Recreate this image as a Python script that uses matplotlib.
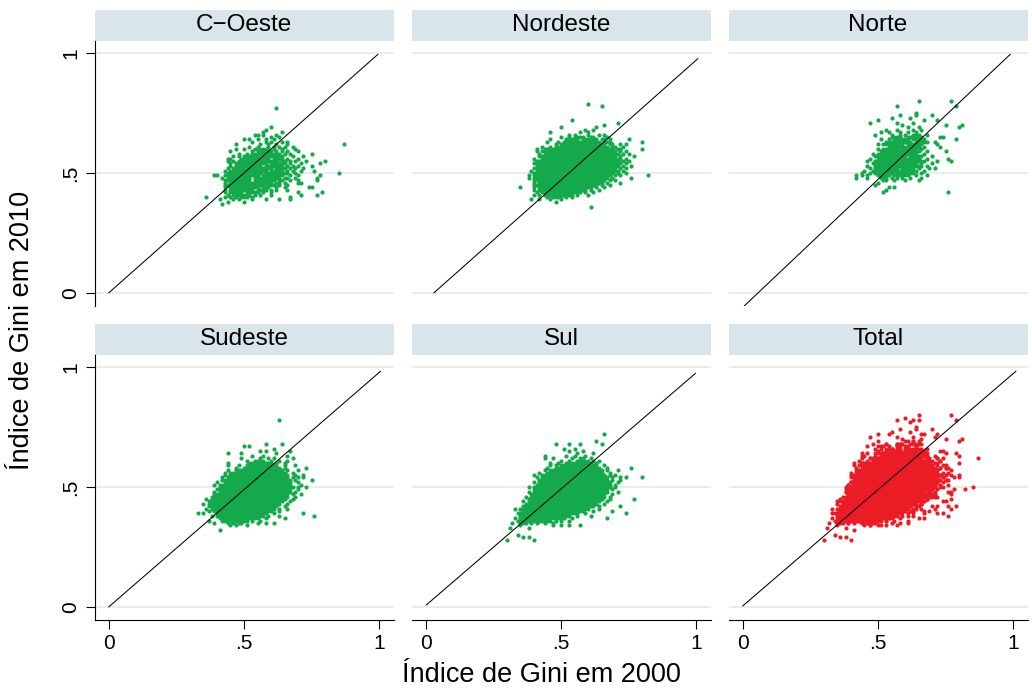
import numpy as np
import matplotlib.pyplot as plt
from matplotlib.patches import Rectangle

plt.rcParams['font.family'] = ['Liberation Sans', 'DejaVu Sans']

# Gini 2000 (x) vs Gini 2010 (y), two-decimal values.
# each row: (gini_2010 in hundredths, "gini_2000 values in hundredths"), "a-b" = every value a..b
co_rows = [
    (77, "62"), (69, "60"), (68, "58"), (67, "57 64"), (66, "54 55 57 62"), (65, "60 63"),
    (64, "50 52 55 58 61"), (63, "53 58 60 64 66"), (62, "47 56 59 62 66 87"),
    (61, "52 55 59 61 63 65 68"), (60, "47 50 54 56-58 61 64 69"),
    (59, "45 53 55-60 62 64 66 70"), (58, "48 51 53-57 59-63 65 67 75"),
    (57, "46 48 50-55 57-64 68 72"), (56, "44 45 49-59 61-64 66 70"),
    (55, "44 46 48-62 64 65 67 69 73 80"), (54, "45 47-58 60-65 67 71 78"),
    (53, "45 47-56 58-64 66 68 70 75"), (52, "44 46-60 62-65 67 69 72"),
    (51, "43 45-58 60-64 66 68 71 76"), (50, "44-56 58-66 69 85"),
    (49, "39 40 43-55 57-64 67 70 78"), (48, "42 44-52 54-63 65 66 69 77"),
    (47, "43-52 54-61 63 64 67 70 77"), (46, "43 45-60 62 63 65 70 71"),
    (45, "43 44 46-57 59-61 63 66"), (44, "43 45-55 57-59 62 65 74 75"),
    (43, "43 45-53 55-58 60 62 66"), (42, "43 45-49 51-55 57 60 70 79"),
    (41, "44 46-52 54 56 60 71 77"), (40, "36 43 45 47 49-51 53 67"),
    (39, "41 46 48 53 58 63 67"), (38, "44 50"), (37, "42"),
]

ne_rows = [
    (79, "60"), (78, "65"), (72, "54"), (71, "71"), (70, "66"), (69, "50 63"), (68, "59 62"),
    (67, "46 57 60"), (66, "53 55 60 64 66"), (65, "50 53 55-58 61 62 67"),
    (64, "46 52-56 58-63 65 66 68 75"), (63, "45 49 51-64 66-68 80"),
    (62, "48 50-66 68 69 72 74"), (61, "43 46 48-67 69 70 73"), (60, "41 44-69 71 72 80"),
    (59, "41 43-70 72 74"), (58, "42 44-71 73 75"), (57, "42-70 72 77"), (56, "40 43-72 74"),
    (55, "41-71 73 75"), (54, "40-72 74"), (53, "41-71 73 76"), (52, "40-70 72 74"),
    (51, "39 41-71 73"), (50, "40-69 71 74"), (49, "38 40-68 70 72 82"),
    (48, "38 40-67 69 76"), (47, "40-66 68 70"), (46, "40 42-65 67 72"),
    (45, "40 41-63 65 68"), (44, "35 40 42-61 63 66"), (43, "40 42-59 61 64"),
    (42, "41 43-57 59 62"), (41, "40 42 44-54 56 60"), (40, "45 47-50 52 54"),
    (39, "39 42 46 50"), (38, "48"), (36, "61"),
]

no_rows = [
    (80, "65 77"), (78, "57 79"), (75, "64"), (74, "58 64 70"), (73, "55 62"), (72, "50 67 72"),
    (71, "47 57 63"), (70, "59 75 81"), (69, "61 65 80"), (68, "53 57 63 66"),
    (67, "51 54 58 61 64"), (66, "49 55 58 60 63-65 68"), (65, "55-58 61-66 73 74"),
    (64, "51 54 56-61 63-67 79"), (63, "53-62 64-68 71"), (62, "50 52-59 61-66 72"),
    (61, "54-65 67 73"), (60, "50 52-57 59-64 66"), (59, "51-65 68 75"), (58, "48 50-64 67"),
    (57, "49-60 62-66 70"), (56, "47 50-65 68 76"), (55, "46 49-56 58-67 72 77"),
    (54, "48-64 66 70"), (53, "46 49-66 68"), (52, "47 49-57 59-63 65 69 71"),
    (51, "45 48-64 67"), (50, "44 47 49-55 57-63 66"), (49, "42 44 46 50-54 56-61 64 68"),
    (48, "42 46 51-53 55 57 59 62 66"), (47, "52 53 56 60 65"), (46, "50"), (45, "49"),
    (44, "54 56"), (43, "53"), (42, "52 76"),
]

se_rows = [
    (78, "63"), (68, "58 64"), (67, "50 52"), (66, "61"), (65, "56 58 67"), (64, "44 49 62"),
    (63, "53 57 66"), (62, "49 56 59 61 68"), (61, "51 54-57 60 63 66"),
    (60, "44 52-60 62 65"), (59, "44 48 51-62 65 69"), (58, "47 50-63 65 73"),
    (57, "44 47-64 66 70"), (56, "43 45-65 68"), (55, "43 45-66 69 72"),
    (54, "42 44-66 68 70 72"), (53, "42-67 69 75"), (52, "40 43-67 70"), (51, "39 41-67 71"),
    (50, "41-68 70 73"), (49, "40-67 70"), (48, "39 41-67 69"), (47, "39-66 68 71"),
    (46, "38-66 69"), (45, "36 38-65 68"), (44, "37-64 67"), (43, "35 37-63 66"),
    (42, "37-62 65"), (41, "36 38-61 63 66"), (40, "37 39-60 63"),
    (39, "33 35 40-58 61 72"), (38, "38 40-57 59 63 76"), (37, "41-55 58 65"),
    (36, "37 42-51 53 56"), (35, "39 44 46 48 49 55 58 61"), (34, "45 47 51"), (32, "41"),
]

sul_rows = [
    (72, "66"), (69, "63"), (68, "48 53 57 65"), (66, "51 55"), (65, "53 58"), (64, "56 62"),
    (63, "44 52 55 59"), (62, "44 47 54 57 58 61"), (61, "50 53 56-60 62 64"),
    (60, "46 49 52-61 63"), (59, "46 48 50-63 66"), (58, "45 48-64 67 76"),
    (57, "44 46-65 67 71"), (56, "42 45-65 68"), (55, "40 43-66 68 70"),
    (54, "41 43-67 69 72 74 80"), (53, "42-67 69 72"), (52, "40 42-68 71"), (51, "41-68 70"),
    (50, "38 40-68 70"), (49, "40-67 69"), (48, "38 40-67 71"), (47, "39-66 69"),
    (46, "37 39-66 68"), (45, "38-65 68 77"), (44, "36 38-64 67"), (43, "37-63 66"),
    (42, "36-62 64 72"), (41, "33 35-60 64"), (40, "36-58 62 69"), (39, "34-56 59 74"),
    (38, "35-53 56 61"), (37, "33 35-51 54 67"), (36, "34-46 48 50 53"),
    (35, "32 35-37 39 41 44 47"), (34, "35 47 50 53 57"), (33, "31 38"), (30, "34"),
    (29, "36 38"), (28, "30 40"),
]

regions = ["C\u2212Oeste", "Nordeste", "Norte", "Sudeste", "Sul", "Total"]
region_rows = [co_rows, ne_rows, no_rows, se_rows, sul_rows]

# reference line ends per panel (x0, x1), (y0, y1)
line_x = [(0.0, 0.995), (0.03, 1.006), (0.006, 0.989), (0.0, 1.005), (0.002, 0.997), (0.0, 1.01)]
line_y = [(0.0, 0.995), (0.0, 0.977), (-0.054, 0.995), (0.0, 0.983), (0.008, 0.974), (0.004, 0.983)]

ticks = [0, 0.5, 1]
tick_labels = ["0", ".5", "1"]


def expand(rows):
    xs, ys = [], []
    for y, spec in rows:
        for tok in spec.split():
            if "-" in tok:
                a, b = map(int, tok.split("-"))
                vals = range(a, b + 1)
            else:
                vals = [int(tok)]
            for v in vals:
                xs.append(v / 100)
                ys.append(y / 100)
    return np.array(xs), np.array(ys)


pts = [expand(r) for r in region_rows]
pts.append((np.concatenate([p[0] for p in pts]), np.concatenate([p[1] for p in pts])))

W, H = 1032, 690
fig = plt.figure(figsize=(W / 100, H / 100), dpi=100)

lefts = [94.5, 411.5, 728.5]
tops = [40.5, 354.5]
aw, ah = 299, 265
strip_h = 31

green = "#14aa4b"
red = "#ec1c26"

for i, name in enumerate(regions):
    row, col = divmod(i, 3)
    ax = fig.add_axes([lefts[col] / W, (H - tops[row] - ah) / H, aw / W, ah / H])
    ax.set_xlim(-0.053, 1.053)
    ax.set_ylim(-0.053, 1.053)

    for g in ticks:
        ax.axhline(g, color="#e6e6e6", lw=1.1, zorder=0)

    x, y = pts[i]
    ax.scatter(x, y, s=9, color=red if name == "Total" else green,
               linewidths=0, zorder=2)
    ax.plot(line_x[i], line_y[i], color="black", lw=0.75, zorder=3)

    for side in ["top", "right", "left", "bottom"]:
        ax.spines[side].set_visible(False)

    ax.set_xticks(ticks)
    ax.set_xticklabels(tick_labels)
    ax.set_yticks(ticks)
    ax.set_yticklabels(tick_labels)
    ax.tick_params(length=6.5, width=0.8, labelsize=15)

    if col == 0:
        ax.spines["left"].set_visible(True)
        ax.spines["left"].set_linewidth(0.8)
        ax.tick_params(axis="y", labelrotation=90, pad=4)
        for lbl in ax.get_yticklabels():
            lbl.set_va("center")
    else:
        ax.tick_params(axis="y", left=False, labelleft=False)

    if row == 1:
        ax.spines["bottom"].set_visible(True)
        ax.spines["bottom"].set_linewidth(0.8)
        ax.tick_params(axis="x", pad=4)
    else:
        ax.tick_params(axis="x", bottom=False, labelbottom=False)

    # panel header
    ax.add_patch(Rectangle((0, 1), 1, strip_h / ah, transform=ax.transAxes,
                           clip_on=False, facecolor="#d9e5eb", edgecolor="none"))
    ax.text(0.5, 1 + strip_h / 2 / ah, name, transform=ax.transAxes,
            ha="center", va="center", fontsize=17.5)

fig.text(541 / W, 1 - 675 / H, "Índice de Gini em 2000", ha="center", va="center", fontsize=19.5)
fig.text(22 / W, 1 - 330 / H, "Índice de Gini em 2010", ha="center", va="center",
         rotation=90, fontsize=19.5)

fig.savefig("out.png", dpi=100)
